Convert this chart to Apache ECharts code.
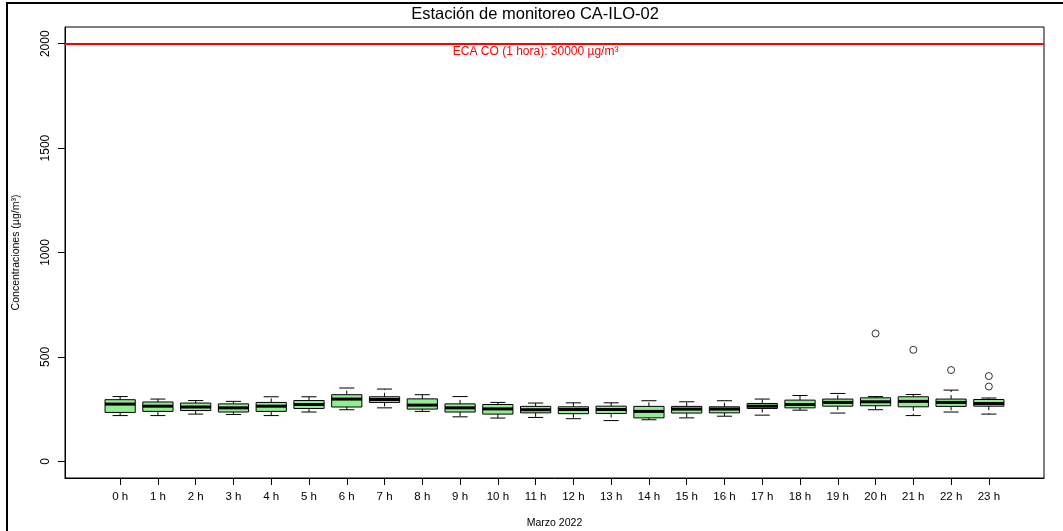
<!DOCTYPE html>
<html>
<head>
<meta charset="utf-8">
<script src="https://cdn.jsdelivr.net/npm/echarts@6/dist/echarts.min.js"></script>
<style>html,body{margin:0;padding:0;background:#fff;}#chart{width:1063px;height:531px;}</style>
</head>
<body>
<div id="chart"></div>
<script>
const hours = ['0 h','1 h','2 h','3 h','4 h','5 h','6 h','7 h','8 h','9 h','10 h','11 h','12 h','13 h','14 h','15 h','16 h','17 h','18 h','19 h','20 h','21 h','22 h','23 h'];
const whiskerLow  = [219,219,226,224,219,236,247,256,239,213,207,210,204,195,199,208,216,221,245,231,247,219,236,226];
const quartile1   = [234,239,243,236,239,253,260,282,250,236,226,232,228,229,208,231,232,253,256,264,266,261,263,264];
const medians     = [274,264,260,256,264,272,298,296,269,256,251,247,248,248,239,250,250,264,272,282,285,287,282,277];
const quartile3   = [295,284,279,275,282,291,319,309,299,275,272,263,261,264,263,263,261,277,293,298,304,309,298,296];
const whiskerHigh = [310,298,291,287,309,309,351,346,319,310,282,279,280,280,290,285,290,298,315,325,310,320,341,303];
const outlierHour  = ['20 h','21 h','22 h','23 h','23 h'];
const outlierValue = [612,534,437,358,408];
const yTicks = [0,500,1000,1500,2000];
const ecaValue = 2000;
const ecaLabel = 'ECA CO (1 hora): 30000 µg/m³';

const FONT = 'Liberation Sans, Arial, sans-serif';
const boxData = hours.map((h,i)=>[i+1, whiskerLow[i], quartile1[i], medians[i], quartile3[i], whiskerHigh[i]]);
const outData = outlierHour.map((h,i)=>[hours.indexOf(h)+1, outlierValue[i]]);
const xPositions = hours.map((h,i)=>i+1);

function renderBox(params, api){
  const x = api.value(0);
  const lo = api.coord([x, api.value(1)]);
  const q1 = api.coord([x, api.value(2)]);
  const md = api.coord([x, api.value(3)]);
  const q3 = api.coord([x, api.value(4)]);
  const hi = api.coord([x, api.value(5)]);
  const w = api.size([0.8, 0])[0];
  const c = lo[0];
  const hw = w/2, sw = w/4;
  const dash = {stroke:'#000', lineWidth:1, lineDash:[4,3]};
  const solid = {stroke:'#000', lineWidth:1};
  return {type:'group', children:[
    {type:'line', shape:{x1:c,y1:q1[1],x2:c,y2:lo[1]}, style:dash},
    {type:'line', shape:{x1:c,y1:q3[1],x2:c,y2:hi[1]}, style:dash},
    {type:'line', shape:{x1:c-sw,y1:lo[1],x2:c+sw,y2:lo[1]}, style:solid},
    {type:'line', shape:{x1:c-sw,y1:hi[1],x2:c+sw,y2:hi[1]}, style:solid},
    {type:'rect', shape:{x:c-hw,y:q3[1],width:w,height:q1[1]-q3[1]}, style:{fill:'#90EE90', stroke:'#000', lineWidth:1}},
    {type:'line', shape:{x1:c-hw,y1:md[1],x2:c+hw,y2:md[1]}, style:{stroke:'#000', lineWidth:3}}
  ]};
}

const chart = echarts.init(document.getElementById('chart'), null, {renderer:'canvas'});
chart.setOption({
  animation:false,
  backgroundColor:'#fff',
  textStyle:{fontFamily:FONT},
  grid:{left:65, top:27, right:19, bottom:53, show:true, borderColor:'#000', borderWidth:1,
        backgroundColor:'transparent', outerBoundsMode:'none', containLabel:false},
  graphic:[
    {type:'rect', shape:{x:7, y:3, width:1200, height:700}, style:{fill:'none', stroke:'#000', lineWidth:2}, silent:true},
    {type:'text', x:535, y:14, style:{text:'Estación de monitoreo CA-ILO-02', font:'16.5px '+FONT, fill:'#000', textAlign:'center', textVerticalAlign:'middle'}}
  ],
  xAxis:{
    type:'value', min:-0.46, max:25.46,
    name:'Marzo 2022', nameLocation:'middle', nameGap:40,
    nameTextStyle:{fontSize:10.5, color:'#000', fontFamily:FONT},
    axisLine:{show:true, onZero:false, lineStyle:{color:'#000', width:1}},
    axisTick:{show:true, customValues:xPositions, length:7, lineStyle:{color:'#000'}},
    axisLabel:{show:true, customValues:xPositions, margin:13, fontSize:11.5, color:'#000', fontFamily:FONT,
      formatter:v=>hours[Math.round(v)-1] || ''},
    splitLine:{show:false}
  },
  yAxis:{
    type:'value', min:-80, max:2080,
    name:'Concentraciones (µg/m³)', nameLocation:'middle', nameGap:43, nameRotate:90,
    nameTextStyle:{fontSize:10.5, color:'#000', fontFamily:FONT},
    axisLine:{show:true, onZero:false, lineStyle:{color:'#000', width:1}},
    axisTick:{show:true, customValues:yTicks, length:7, lineStyle:{color:'#000'}},
    axisLabel:{show:true, customValues:yTicks, rotate:90, margin:13, fontSize:12, color:'#000', fontFamily:FONT,
      formatter:v=>String(v)},
    splitLine:{show:false}
  },
  series:[
    {type:'custom', renderItem:renderBox, data:boxData, encode:{x:0, y:[1,2,3,4,5]}, z:3,
     markLine:{silent:true, symbol:['none','none'], label:{show:false},
       lineStyle:{color:'#FF0000', width:2, type:'solid'},
       data:[{yAxis:ecaValue}]},
     markPoint:{silent:true, symbol:'circle', symbolSize:0,
       label:{show:true, position:'bottom', distance:2, formatter:ecaLabel, color:'#FF0000', fontSize:12, fontFamily:FONT},
       data:[{coord:[12, ecaValue]}]}
    },
    {type:'scatter', data:outData, symbol:'circle', symbolSize:7, z:4,
     itemStyle:{color:'#fff', borderColor:'#000', borderWidth:1}}
  ]
});
</script>
</body>
</html>
